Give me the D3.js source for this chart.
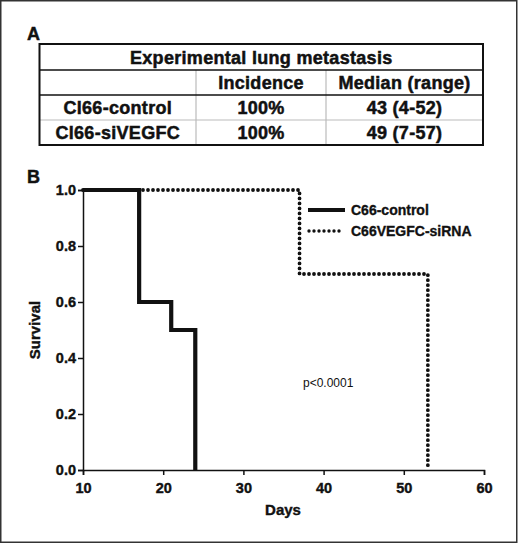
<!DOCTYPE html>
<html><head><meta charset="utf-8">
<script src="https://cdn.jsdelivr.net/npm/d3@7"></script>
<style>
body{margin:0;background:#fff;}
svg{display:block;font-family:"Liberation Sans",Arial,Helvetica,sans-serif;}
</style></head><body>
<svg id="c" width="520" height="544"></svg>
<script>
// ---- data ----
const tableTitle = "Experimental lung metastasis";
const tableHeaders = ["", "Incidence", "Median (range)"];
const groups = ["Cl66-control", "Cl66-siVEGFC"];
const incidence = ["100%", "100%"];
const medianRange = ["43 (4-52)", "49 (7-57)"];

const seriesNames = ["C66-control", "C66VEGFC-siRNA"];
const controlDays = [10, 17, 21, 24];
const controlSurvival = [1.0, 0.6, 0.5, 0.0];
const sirnaDays = [10, 37, 53];
const sirnaSurvival = [1.0, 0.7, 0.0];
const xTicks = [10, 20, 30, 40, 50, 60];
const yTicks = [0.0, 0.2, 0.4, 0.6, 0.8, 1.0];
const pText = "p<0.0001";

const svg = d3.select("#c");
svg.append("rect").attr("x",0.75).attr("y",0.75).attr("width",516).attr("height",541.5)
  .attr("fill","none").attr("stroke","#333").attr("stroke-width",1.5);

function heavy(sel, w){ return sel.attr("font-weight","bold").attr("fill","#111").attr("stroke","#111").attr("stroke-width",w||0.45); }

// ---- panel A: table ----
const colX = [39.5, 196, 326, 483];
const rowY = [44, 70, 95, 120, 145];
heavy(svg.append("text").attr("x",27).attr("y",40).attr("font-size",18).text("A"));
const tg = svg.append("g");
tg.append("line").attr("x1",colX[0]).attr("x2",colX[3]).attr("y1",rowY[3]).attr("y2",rowY[3]).attr("stroke","#bbb").attr("stroke-width",1.2);
[colX[1], colX[2]].forEach(x=>tg.append("line").attr("x1",x).attr("x2",x).attr("y1",rowY[1]).attr("y2",rowY[4]).attr("stroke","#bbb").attr("stroke-width",1.2));
[rowY[1], rowY[2]].forEach(y=>tg.append("line").attr("x1",colX[0]).attr("x2",colX[3]).attr("y1",y).attr("y2",y).attr("stroke","#111").attr("stroke-width",1.5));
tg.append("rect").attr("x",colX[0]).attr("y",rowY[0]).attr("width",colX[3]-colX[0]).attr("height",rowY[4]-rowY[0])
  .attr("fill","none").attr("stroke","#111").attr("stroke-width",2);

function cellText(txt, cx, by){
  heavy(tg.append("text").attr("x",cx).attr("y",by).attr("text-anchor","middle")
    .attr("font-size",18).attr("letter-spacing","0.3px").text(txt), 0.5);
}
cellText(tableTitle, (colX[0]+colX[3])/2, 64);
const colC = [ (colX[0]+colX[1])/2, (colX[1]+colX[2])/2, (colX[2]+colX[3])/2 ];
tableHeaders.forEach((h,i)=>{ if(h) cellText(h, colC[i], 89); });
groups.forEach((g,i)=>{
  const by = 114 + i*25;
  cellText(g, colC[0], by);
  cellText(incidence[i], colC[1], by);
  cellText(medianRange[i], colC[2], by);
});

// ---- panel B: survival ----
heavy(svg.append("text").attr("x",27).attr("y",183).attr("font-size",18).text("B"));
const x = d3.scaleLinear().domain([10,60]).range([83,484]);
const y = d3.scaleLinear().domain([0,1]).range([470,190]);

const xa = svg.append("g").attr("transform","translate(0,470)")
  .call(d3.axisBottom(x).tickValues(xTicks).tickSize(5).tickPadding(8).tickFormat(d3.format("d")));
const ya = svg.append("g").attr("transform","translate(83,0)")
  .call(d3.axisLeft(y).tickValues(yTicks).tickSize(5).tickPadding(2).tickFormat(d3.format(".1f")));
[xa,ya].forEach(a=>{
  a.select(".domain").attr("stroke","#111").attr("stroke-width",1.5);
  a.selectAll(".tick line").attr("stroke","#111").attr("stroke-width",1.5);
  heavy(a.selectAll(".tick text").attr("font-size",14.5)
    .attr("font-family","Liberation Sans, Arial, sans-serif"), 0.4);
});

heavy(svg.append("text").attr("x",283).attr("y",515).attr("text-anchor","middle")
  .attr("font-size",15).text("Days"), 0.4);
heavy(svg.append("text").attr("transform","translate(40,330) rotate(-90)").attr("text-anchor","middle")
  .attr("font-size",15).text("Survival"), 0.4);

const line = d3.line().x(d=>x(d[0])).y(d=>y(d[1])).curve(d3.curveStepAfter);
const sirna = sirnaDays.map((d,i)=>[d, sirnaSurvival[i]]);
const control = controlDays.map((d,i)=>[d, controlSurvival[i]]);
svg.append("path").attr("d",line(sirna)).attr("fill","none").attr("stroke","#111")
  .attr("stroke-width",3.8).attr("stroke-linecap","round").attr("stroke-dasharray","0 5");
svg.append("path").attr("d",line(control)).attr("fill","none").attr("stroke","#111")
  .attr("stroke-width",4.2).attr("stroke-linejoin","miter").attr("stroke-linecap","butt");

// legend
const lg = svg.append("g");
lg.append("line").attr("x1",308).attr("x2",345).attr("y1",210).attr("y2",210).attr("stroke","#111").attr("stroke-width",4);
lg.append("line").attr("x1",309).attr("x2",344).attr("y1",231).attr("y2",231).attr("stroke","#111")
  .attr("stroke-width",3.4).attr("stroke-linecap","round").attr("stroke-dasharray","0 5");
seriesNames.forEach((n,i)=>{
  heavy(lg.append("text").attr("x",351).attr("y",215+i*21).attr("font-size",14).text(n), 0.35);
});
svg.append("text").attr("x",303).attr("y",387).attr("font-size",12).attr("fill","#111").text(pText);
</script>
</body></html>
